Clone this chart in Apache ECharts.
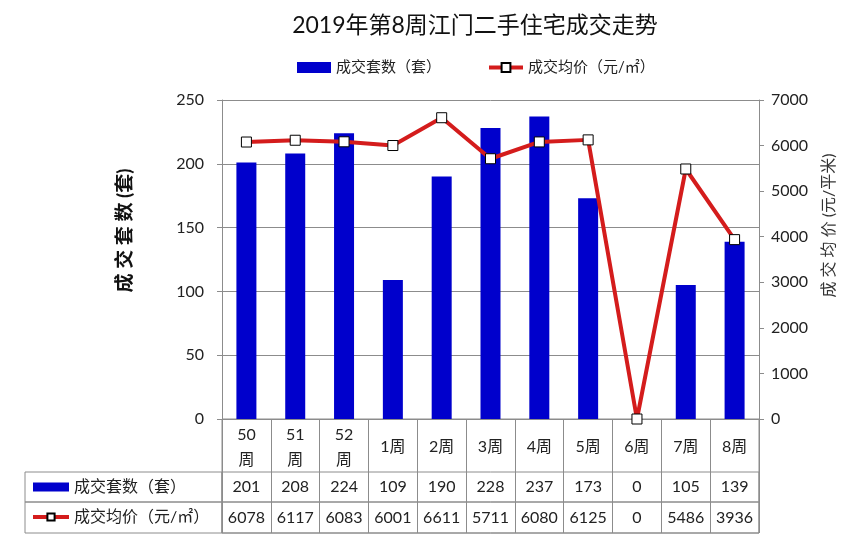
<!DOCTYPE html>
<html>
<head>
<meta charset="utf-8">
<script src="https://cdn.jsdelivr.net/npm/echarts@6/dist/echarts.min.js"></script>
<style>html,body{margin:0;padding:0;background:#fff;}#c{width:847px;height:536px;}</style>
</head>
<body>
<div id="c"></div>
<script>
const titleText = '2019年第8周江门二手住宅成交走势';
const categories = ['50\n周','51\n周','52\n周','1周','2周','3周','4周','5周','6周','7周','8周'];
const counts = [201,208,224,109,190,228,237,173,0,105,139];
const prices = [6078,6117,6083,6001,6611,5711,6080,6125,0,5486,3936];
const countName = '成交套数（套）';
const priceName = '成交均价（元/㎡）';
const leftAxisName = '成 交 套 数 (套)';
const rightAxisName = '成 交 均 价 (元/平米)';

const FONT = 'Lato, "Noto Sans CJK SC", sans-serif';
const GRID_COLOR = '#8c8c8c';
const RED = '#d41c1c';
const chart = echarts.init(document.getElementById('c'), null, {renderer: 'canvas'});

const hiddenAxis = (gi) => ({gridIndex: gi, type: 'value', show: false});

const option = {
  backgroundColor: '#fff',
  animation: false,
  textStyle: {fontFamily: FONT},
  title: {
    text: titleText, left: 470, top: 9, textAlign: 'center',
    textStyle: {fontSize: 23, fontWeight: 'normal', color: '#111', fontFamily: FONT}
  },
  legend: [{
    top: 60, left: 297, padding: 0, itemGap: 46, itemWidth: 34, itemHeight: 11,
    textStyle: {fontSize: 15, color: '#222', fontFamily: FONT},
    lineStyle: {width: 4},
    data: [{name: countName, icon: 'rect'}, {name: priceName}],
    selectedMode: false
  }, {
    orient: 'vertical', left: 31, top: 479, padding: 0, itemGap: 14, itemWidth: 36, itemHeight: 9,
    textStyle: {fontSize: 16, lineHeight: 16, color: '#222', fontFamily: FONT},
    lineStyle: {width: 4},
    data: [{name: countName, icon: 'rect'}, {name: priceName}],
    selectedMode: false
  }],
  grid: [
    {left: 222, right: 88, top: 100, bottom: 117},
    {left: 222, right: 88, top: 419, bottom: 3, show: true, borderColor: GRID_COLOR, borderWidth: 1},
    {left: 222, right: 88, top: 472, height: 30, show: true, borderColor: GRID_COLOR, borderWidth: 1},
    {left: 222, right: 88, top: 502, height: 31, show: true, borderColor: GRID_COLOR, borderWidth: 1},
    {left: 25, width: 197, top: 472, height: 30, show: true, borderColor: GRID_COLOR, borderWidth: 1},
    {left: 25, width: 197, top: 502, height: 31, show: true, borderColor: GRID_COLOR, borderWidth: 1}
  ],
  xAxis: [
    {
      gridIndex: 0, type: 'category', data: categories,
      axisLine: {lineStyle: {color: GRID_COLOR}},
      axisTick: {show: false},
      axisLabel: {interval: 0, margin: 28, verticalAlign: 'middle', lineHeight: 25, fontSize: 16, color: '#222', fontFamily: FONT}
    },
    {
      gridIndex: 1, type: 'category', data: categories,
      axisLine: {show: false}, axisTick: {show: false}, axisLabel: {show: false},
      splitLine: {show: true, interval: 0, lineStyle: {color: GRID_COLOR}}
    },
    {
      gridIndex: 2, type: 'category', data: counts.map(String),
      axisLine: {show: false}, axisTick: {show: false},
      axisLabel: {inside: true, interval: 0, margin: 15, verticalAlign: 'middle', fontSize: 16, color: '#222', fontFamily: FONT},
      splitLine: {show: false}
    },
    {
      gridIndex: 3, type: 'category', data: prices.map(String),
      axisLine: {show: false}, axisTick: {show: false},
      axisLabel: {inside: true, interval: 0, margin: 15, verticalAlign: 'middle', fontSize: 16, color: '#222', fontFamily: FONT},
      splitLine: {show: false}
    },
    hiddenAxis(4), hiddenAxis(5)
  ],
  yAxis: [
    {
      gridIndex: 0, type: 'value', min: 0, max: 250, interval: 50, position: 'left',
      name: leftAxisName, nameLocation: 'middle', nameGap: 88, nameRotate: 90,
      nameTextStyle: {fontSize: 19, color: '#111', fontWeight: 'bold', fontFamily: FONT, padding: [0, 0, 0, 58]},
      axisLine: {show: true, lineStyle: {color: GRID_COLOR}},
      axisTick: {show: true, length: 5, lineStyle: {color: GRID_COLOR}},
      axisLabel: {margin: 18, fontSize: 16, color: '#222', fontFamily: FONT},
      splitLine: {show: true, lineStyle: {color: GRID_COLOR}}
    },
    {
      gridIndex: 0, type: 'value', min: 0, max: 7000, interval: 1000, position: 'right',
      name: rightAxisName, nameLocation: 'middle', nameGap: 62, nameRotate: 90,
      nameTextStyle: {fontSize: 16, color: '#333', fontFamily: FONT, padding: [0, 0, 0, 68]},
      axisLine: {show: true, lineStyle: {color: GRID_COLOR}},
      axisTick: {show: true, length: 5, lineStyle: {color: GRID_COLOR}},
      axisLabel: {margin: 12, fontSize: 16, color: '#222', fontFamily: FONT, formatter: (v) => String(v)},
      splitLine: {show: false}
    },
    {gridIndex: 1, type: 'value', show: false},
    {gridIndex: 2, type: 'value', show: false},
    {gridIndex: 3, type: 'value', show: false},
    hiddenAxis(4), hiddenAxis(5)
  ],
  series: [
    {
      name: countName, type: 'bar', xAxisIndex: 0, yAxisIndex: 0,
      data: counts, barWidth: 20,
      itemStyle: {color: '#0000cc'}
    },
    {
      name: priceName, type: 'line', xAxisIndex: 0, yAxisIndex: 1,
      data: prices, symbol: 'rect', symbolSize: 10, showAllSymbol: true, z: 5,
      lineStyle: {color: RED, width: 4},
      itemStyle: {color: '#ffffff', borderColor: '#000', borderWidth: 1}
    }
  ]
};
chart.setOption(option);
</script>
</body>
</html>
